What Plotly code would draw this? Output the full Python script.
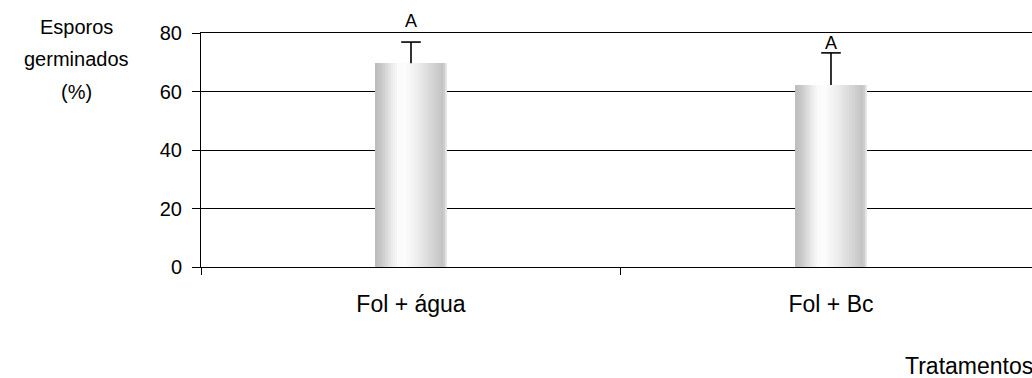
import plotly.graph_objects as go

# Germination data
treatments = ["Fol + água", "Fol + Bc"]
germinated = [69.7, 62.2]      # mean germinated spores (%)
std_err = [7.2, 11.0]          # upper error
letters = ["A", "A"]           # significance groups

y_ticks = [0, 20, 40, 60, 80]

FONT = "Liberation Sans, Arial, sans-serif"
BAR_WIDTH = 0.17

# Horizontal shading profile of the cylinder-like bars (position -> grey level)
shade_stops = [(0.0, 188), (0.08, 198), (0.22, 232), (0.32, 250), (0.42, 252),
               (0.58, 238), (0.75, 218), (0.9, 200), (0.955, 192), (0.965, 228), (1.0, 228)]


def shade(t):
    for (t0, g0), (t1, g1) in zip(shade_stops[:-1], shade_stops[1:]):
        if t0 <= t <= t1:
            g = g0 + (g1 - g0) * (t - t0) / (t1 - t0 if t1 > t0 else 1)
            return int(round(g))
    return shade_stops[-1][1]


fig = go.Figure()

n_strips = 36
strip_w = BAR_WIDTH / n_strips
for i in range(n_strips):
    t = (i + 0.5) / n_strips
    g = shade(t)
    fig.add_trace(go.Bar(
        x=treatments, y=germinated,
        width=strip_w * 1.15, offset=-BAR_WIDTH / 2 + i * strip_w,
        marker=dict(color=f"rgb({g},{g},{g})", line=dict(width=0)),
        hoverinfo="skip", showlegend=False,
    ))

# Upper error bars: stem drawn downwards from the top, cap as a horizontal marker
err_top = [m + e for m, e in zip(germinated, std_err)]
fig.add_trace(go.Scatter(
    x=treatments, y=err_top, mode="markers",
    marker=dict(symbol="line-ew-open", size=14, color="black",
                line=dict(width=1.6, color="black")),
    error_y=dict(type="data", symmetric=False, array=[0] * len(std_err),
                 arrayminus=std_err, color="black", thickness=1.6, width=0),
    showlegend=False, hoverinfo="skip",
))

# Significance letters above the error bars
letter_shift = [9, -2]
for cat, top, lab, s in zip(treatments, err_top, letters, letter_shift):
    fig.add_annotation(x=cat, y=top, text=lab, showarrow=False,
                       yanchor="bottom", yshift=s,
                       font=dict(family=FONT, size=18, color="black"))

# Axis titles
for txt, yp in [("Esporos", 1.0256), ("germinados", 0.891), ("(%)", 0.748)]:
    fig.add_annotation(xref="paper", yref="paper", x=-0.1504, y=yp, text=txt,
                       showarrow=False, xanchor="center", yanchor="middle",
                       font=dict(family=FONT, size=20, color="black"))
fig.add_annotation(xref="paper", yref="paper", x=0.8448, y=-0.423, text="Tratamentos",
                   showarrow=False, xanchor="left", yanchor="middle",
                   font=dict(family=FONT, size=23, color="black"))

fig.update_layout(
    width=1032, height=378,
    margin=dict(l=201, r=0, t=33, b=111),
    paper_bgcolor="white", plot_bgcolor="white",
    barmode="overlay", bargap=0,
    font=dict(family=FONT, color="black"),
    xaxis=dict(
        type="category", range=[-0.5, 1.4786],
        showline=True, linecolor="black", linewidth=1, mirror=True,
        ticks="outside", tickson="boundaries", ticklen=7, tickcolor="black",
        tickfont=dict(family=FONT, size=23, color="black"),
        ticklabelstandoff=16, showgrid=False,
    ),
    yaxis=dict(
        range=[0, 80], tickvals=y_ticks,
        showline=True, linecolor="black", linewidth=1,
        ticks="outside", ticklen=8, tickcolor="black",
        tickfont=dict(family=FONT, size=20, color="black"),
        ticklabelstandoff=6,
        showgrid=True, gridcolor="black", gridwidth=1, zeroline=False,
    ),
)

fig.write_html("out.html")
